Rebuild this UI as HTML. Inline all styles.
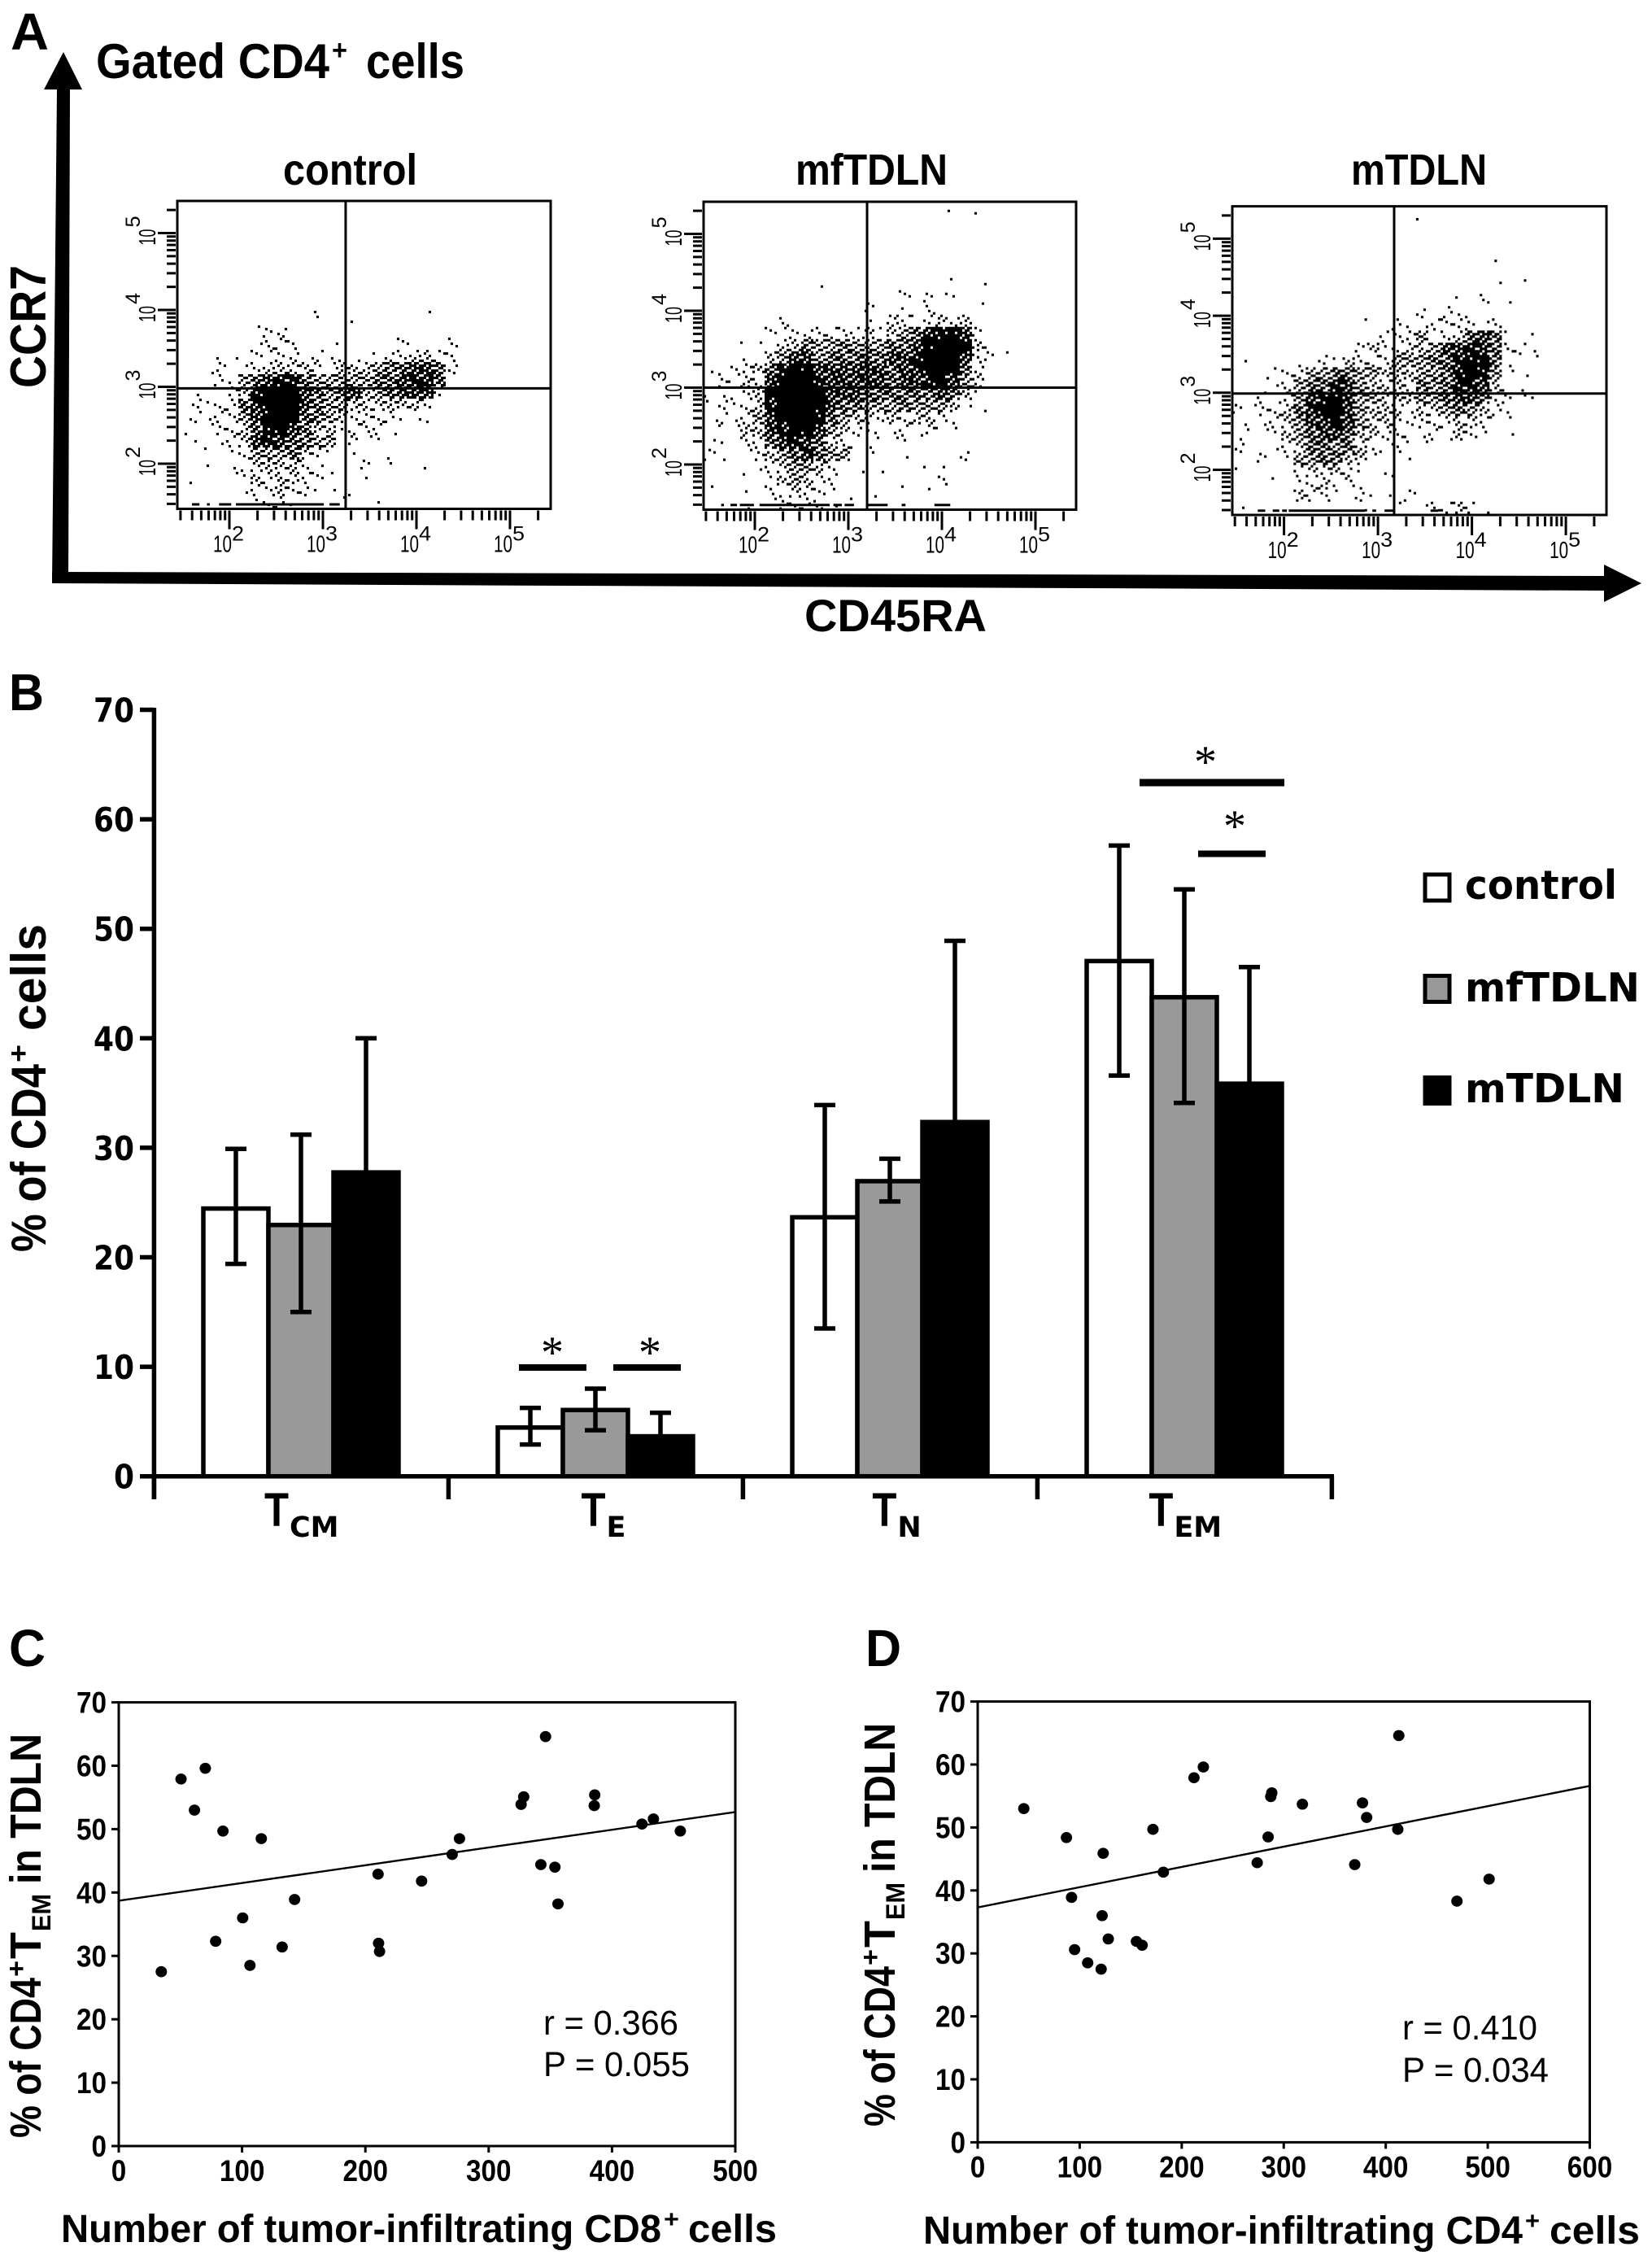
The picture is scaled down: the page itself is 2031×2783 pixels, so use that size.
<!DOCTYPE html>
<html lang="en">
<head>
<meta charset="utf-8">
<title>CD4+ T cell subsets in tumor-draining lymph nodes</title>
<style>
html,body{margin:0;padding:0;background:#fff;}
svg{display:block;}
text{fill:#000;}
.b{font-family:"Liberation Sans",Arial,sans-serif;font-weight:700;}
.r{font-family:"Liberation Sans",Arial,sans-serif;font-weight:400;}
.d{font-family:"DejaVu Sans","Liberation Sans",sans-serif;font-weight:700;}
.s{font-family:"Liberation Serif",serif;font-weight:400;}
</style>
</head>
<body>
<svg id="figure" xmlns="http://www.w3.org/2000/svg" width="2031" height="2783" viewBox="0 0 2031 2783">
  <rect x="0" y="0" width="2031" height="2783" fill="#fff"/>

  <!-- Panel A static -->
  <text class="b" x="13" y="61" font-size="64" textLength="47" lengthAdjust="spacingAndGlyphs">A</text>
  <g>
    <text class="b" x="118" y="96" font-size="60" textLength="287" lengthAdjust="spacingAndGlyphs">Gated CD4</text>
    <text class="b" x="408" y="73" font-size="34" textLength="19" lengthAdjust="spacingAndGlyphs">+</text>
    <text class="b" x="450" y="96" font-size="60" textLength="121" lengthAdjust="spacingAndGlyphs">cells</text>
  </g>
  <text class="b" x="348" y="227" font-size="54" textLength="165" lengthAdjust="spacingAndGlyphs">control</text>
  <text class="b" x="978" y="227" font-size="54" textLength="187" lengthAdjust="spacingAndGlyphs">mfTDLN</text>
  <text class="b" x="1661" y="227" font-size="54" textLength="167" lengthAdjust="spacingAndGlyphs">mTDLN</text>
  <g>
    <polygon points="64,717 84,717 86,110 70,110" fill="#000"/>
    <polygon points="78,64 101,110 54,110" fill="#000"/>
  </g>
  <g>
    <polygon points="64,703 1972,708 1972,726 64,717" fill="#000"/>
    <polygon points="2018,717 1972,694 1972,740" fill="#000"/>
  </g>
  <text class="b" transform="translate(56,477) rotate(-90)" font-size="62" textLength="151" lengthAdjust="spacingAndGlyphs">CCR7</text>
  <text class="b" x="989" y="776" font-size="56" textLength="224" lengthAdjust="spacingAndGlyphs">CD45RA</text>
  <g id="flow-layer"></g>

  <!-- Panel B static -->
  <text class="b" x="11" y="873" font-size="64" textLength="43" lengthAdjust="spacingAndGlyphs">B</text>
  <g transform="translate(56,1539) rotate(-90)">
    <text class="b" x="0" y="0" font-size="60" textLength="231" lengthAdjust="spacingAndGlyphs">% of CD4</text>
    <text class="b" x="233" y="-22" font-size="34" textLength="22" lengthAdjust="spacingAndGlyphs">+</text>
    <text class="b" x="272" y="0" font-size="60" textLength="131" lengthAdjust="spacingAndGlyphs">cells</text>
  </g>
  <g id="bar-layer"></g>
  <g>
    <rect x="638" y="1677" width="83" height="8" fill="#000"/>
    <rect x="754" y="1677" width="83" height="8" fill="#000"/>
    <rect x="1401" y="957.5" width="178" height="9" fill="#000"/>
    <rect x="1473" y="1045.5" width="83" height="8" fill="#000"/>
    <text class="s" x="679" y="1681" font-size="56" text-anchor="middle">*</text>
    <text class="s" x="799" y="1681" font-size="56" text-anchor="middle">*</text>
    <text class="s" x="1482" y="955" font-size="56" text-anchor="middle">*</text>
    <text class="s" x="1518" y="1034" font-size="56" text-anchor="middle">*</text>
  </g>
  <g>
    <g>
      <rect x="1752" y="1075" width="30" height="32" fill="#fff" stroke="#000" stroke-width="5"/>
      <text class="d" x="1801" y="1105" font-size="49" textLength="187" lengthAdjust="spacingAndGlyphs">control</text>
    </g>
    <g>
      <rect x="1752" y="1199.5" width="30" height="32" fill="#999" stroke="#000" stroke-width="5"/>
      <text class="d" x="1801" y="1231" font-size="49" textLength="215" lengthAdjust="spacingAndGlyphs">mfTDLN</text>
    </g>
    <g>
      <rect x="1752" y="1324.5" width="30" height="32" fill="#000" stroke="#000" stroke-width="5"/>
      <text class="d" x="1801" y="1355" font-size="49" textLength="196" lengthAdjust="spacingAndGlyphs">mTDLN</text>
    </g>
  </g>

  <!-- Panel C static -->
  <text class="b" x="11" y="2048" font-size="64" textLength="45" lengthAdjust="spacingAndGlyphs">C</text>
  <g transform="translate(50,2628) rotate(-90)">
    <text class="b" x="0" y="0" font-size="54" textLength="197" lengthAdjust="spacingAndGlyphs">% of CD4</text>
    <text class="b" x="198" y="-19" font-size="32" textLength="20" lengthAdjust="spacingAndGlyphs">+</text>
    <text class="b" x="220" y="0" font-size="54" textLength="33" lengthAdjust="spacingAndGlyphs">T</text>
    <text class="b" x="254" y="12" font-size="32" textLength="46" lengthAdjust="spacingAndGlyphs">EM</text>
    <text class="b" x="312" y="0" font-size="54" textLength="185" lengthAdjust="spacingAndGlyphs">in TDLN</text>
  </g>
  <g>
    <text class="b" x="75" y="2756" font-size="48" textLength="738" lengthAdjust="spacingAndGlyphs">Number of tumor-infiltrating CD8</text>
    <text class="b" x="816" y="2738" font-size="30" textLength="19" lengthAdjust="spacingAndGlyphs">+</text>
    <text class="b" x="846" y="2756" font-size="48" textLength="109" lengthAdjust="spacingAndGlyphs">cells</text>
  </g>
  <text class="r" x="668" y="2501" font-size="43" textLength="166" lengthAdjust="spacingAndGlyphs">r = 0.366</text>
  <text class="r" x="668" y="2552" font-size="43" textLength="180" lengthAdjust="spacingAndGlyphs">P = 0.055</text>

  <!-- Panel D static -->
  <text class="b" x="1064" y="2048" font-size="64" textLength="44" lengthAdjust="spacingAndGlyphs">D</text>
  <g transform="translate(1100,2614) rotate(-90)">
    <text class="b" x="0" y="0" font-size="54" textLength="197" lengthAdjust="spacingAndGlyphs">% of CD4</text>
    <text class="b" x="198" y="-19" font-size="32" textLength="20" lengthAdjust="spacingAndGlyphs">+</text>
    <text class="b" x="220" y="0" font-size="54" textLength="33" lengthAdjust="spacingAndGlyphs">T</text>
    <text class="b" x="254" y="12" font-size="32" textLength="46" lengthAdjust="spacingAndGlyphs">EM</text>
    <text class="b" x="312" y="0" font-size="54" textLength="184" lengthAdjust="spacingAndGlyphs">in TDLN</text>
  </g>
  <g>
    <text class="b" x="1135" y="2758" font-size="48" textLength="737" lengthAdjust="spacingAndGlyphs">Number of tumor-infiltrating CD4</text>
    <text class="b" x="1875" y="2740" font-size="30" textLength="18" lengthAdjust="spacingAndGlyphs">+</text>
    <text class="b" x="1905" y="2758" font-size="48" textLength="111" lengthAdjust="spacingAndGlyphs">cells</text>
  </g>
  <text class="r" x="1724" y="2507" font-size="43" textLength="166" lengthAdjust="spacingAndGlyphs">r = 0.410</text>
  <text class="r" x="1724" y="2559" font-size="43" textLength="180" lengthAdjust="spacingAndGlyphs">P = 0.034</text>
  <g id="scatter-layer"></g>
</svg>

<script>
/* ---------- Panel B data ---------- */
const barCategories = ['CM', 'E', 'N', 'EM'];
const barTickLabels = ['0', '10', '20', '30', '40', '50', '60', '70'];
const controlMeans = [24.6, 4.6, 23.8, 47.2];
const mfTDLNMeans = [23.1, 6.2, 27.1, 43.9];
const mTDLNMeans = [27.9, 3.8, 32.5, 36.0];
const controlUpper = [29.9, 6.25, 33.9, 57.6];
const controlLower = [19.4, 2.9, 13.5, 36.6];
const mfTDLNUpper = [31.2, 8.0, 29.0, 53.6];
const mfTDLNLower = [15.0, 4.2, 25.1, 34.1];
const mTDLNUpper = [40.0, 5.8, 48.9, 46.5];
const mTDLNLower = [15.8, 1.8, 16.1, 25.5];

/* ---------- Panel C data ---------- */
const scatterCX = [34.5, 50.5, 61.4, 70.2, 78.6, 84.5, 100.5, 106.4, 115.6, 132.5, 142.6, 210.3, 210.7, 211.5, 245.6, 270.4, 276.3, 326.3, 328.4, 342.3, 346.1, 353.7, 356.2, 385.6, 386, 424.3, 433.6, 455.4];
const scatterCY = [27.5, 57.9, 53, 59.6, 32.3, 49.7, 36.0, 28.5, 48.5, 31.4, 38.9, 42.9, 32.0, 30.7, 41.8, 46.0, 48.5, 53.9, 55.1, 44.4, 64.6, 44.0, 38.2, 53.7, 55.4, 50.8, 51.6, 49.7];
const scatterCFitX = [0, 500];
const scatterCFitY = [38.7, 52.7];
const scatterCXTicks = [0, 100, 200, 300, 400, 500];

/* ---------- Panel D data ---------- */
const scatterDX = [45.2, 87, 92, 95, 107.8, 121, 122, 123, 128, 155.6, 161.2, 171.8, 182, 212, 221.2, 274, 284.7, 287.3, 288.3, 318.3, 369.6, 377.2, 381.3, 411.8, 412.8, 469.8, 501.3];
const scatterDY = [53.0, 48.4, 38.9, 30.6, 28.5, 27.5, 36.0, 45.9, 32.3, 31.9, 31.3, 49.7, 42.9, 57.9, 59.6, 44.4, 48.5, 54.9, 55.5, 53.7, 44.1, 53.9, 51.6, 49.7, 64.6, 38.3, 41.8];
const scatterDFitX = [0, 600];
const scatterDFitY = [37.3, 56.6];
const scatterDXTicks = [0, 100, 200, 300, 400, 500, 600];
const scatterYTicks = [0, 10, 20, 30, 40, 50, 60, 70];

/* ---------- Panel A data: event density per log-scale cell (0-9) ---------- */
const flowExponents = [2, 3, 4, 5];
const controlDensity = [
"0000000000000000000000000","0000000000000000000000000","0000000000000000000000000","0000000000000000000000000",
"0000000000000000000000000","0000000000000000000000000","0000000000000000000000000","0000000000000000000000000",
"0000000000010000000010000","0000000000010010000000000","0000001220000000000000000","0000001222000100002000200",
"0001102122021110122332200","0012012333321333455665200","0002145677544444556775000","0100237999654563456662000",
"0212257899654433333320000","0212246899554322221110000","1012235886533122210000000","0101236765544021100000000",
"0010124445321010010000000","0010113333210002010010000","0100113233221001000000000","0000012232211010000000000",
"0000001221000100100000000"];
const mfTDLNDensity = [
"0000000000000000000010100","0000000000000000000000000","0000000000000000000000000","0000000000000000000000000",
"0000000000000000000000000","0000000000000000000000000","0000000001000000000010010","0000000000000000202110000",
"0000000000000200102000100","0000002000000103212323000","0000021222222313457786200","0001103354454445568998310",
"0001034664555556679996221","1122357986666665678985200","0213268997666665667864300","1112389999666555555653100",
"1212379998655444544431010","0212468998543323233210000","0113367986432111212110000","1102256765321111100000000",
"2101234575440100100002000","0000123443200110001100000","0001013432200000000200000","1001021322100010101000000",
"0001012222101000000000000"];
const mTDLNDensity = [
"0000000000000001000000000","0000000000000000000000000","0000000000000000000000000","0000000000000000000000000",
"0000000000000000000001000","0000000000000000000000010","0000000000000000000001000","0000000000000000001020100",
"0000000000000002021100000","0000000000100211222212000","0000000000002224023565101","0000000000231233466765221",
"0100010213222444557885101","0011224455443334457974101","0001245576433325457763110","0021246786443334456652211",
"2122357896433313345432100","0112346686433222223321100","1111345665332211213210100","2001235545311211000000000",
"0020144553310010000000000","1000023232101100000000000","0001012312100000000000000","0000032210211020000000000",
"1000000000100101223210000"];
/* events piled on the lower axis: [from, to] pairs of log10 CD45RA */
const controlEdgeEvents = [[1.60,1.68],[1.76,1.79],[1.89,2.02],[2.07,3.01],[3.07,3.18]];
const mfTDLNEdgeEvents = [[1.64,1.67],[1.74,1.81],[1.84,1.99],[2.05,2.80],[2.84,2.93],[2.96,3.06],[3.21,3.42],[3.57,3.61],[3.92,4.09]];
const mTDLNEdgeEvents = [[1.72,1.80],[1.88,1.95],[1.98,2.03],[2.05,2.86],[2.94,2.98],[3.07,3.17],[3.56,3.64]];
const controlGates = [3.243, 2.98];
const mfTDLNGates = [3.2, 3.0];
const mTDLNGates = [3.172, 2.99];

var NS = 'http://www.w3.org/2000/svg';
function mk(parent, tag, attrs, content) {
  var e = document.createElementNS(NS, tag);
  for (var k in attrs) e.setAttribute(k, attrs[k]);
  if (content !== undefined) e.textContent = content;
  parent.appendChild(e);
  return e;
}

/* ---------- Flow plots ---------- */
function drawFlow(key, box, density, edges, gates) {
  var root = document.getElementById('flow-layer');
  var sx = function (l) { return box.x100 + (l - 2) * box.xDec; };
  var sy = function (l) { return box.y100 - (l - 2) * box.yDec; };
  var g = mk(root, 'g', {});
  
  

  var counts = [0, 1, 3, 6, 10, 14, 18, 21, 24, 25];
  var cellX = 0.1304, cellY = 0.1587;
  var cw = cellX * box.xDec, ch = cellY * box.yDec, sw = cw / 5, sh = ch / 5;
  var d = '';
  density.forEach(function (row, r) {
    for (var c = 0; c < row.length; c++) {
      var n = counts[+row.charAt(c)];
      for (var i = 0; i < n; i++) {
        var k = (i * 7 + c * 3 + r * 11) % 25;
        var px = sx(box.gridX + c * cellX) + (k % 5) * sw;
        var py = sy(box.gridY - r * cellY) + Math.floor(k / 5) * sh;
        d += 'M' + px.toFixed(1) + ' ' + py.toFixed(1) + 'h' + (sw + 0.1).toFixed(1) + 'v' + (sh + 0.1).toFixed(1) + 'h-' + (sw + 0.1).toFixed(1) + 'z';
      }
    }
  });
  var dots = mk(g, 'path', { d: d, fill: '#000' });
  
  

  var edgeD = '';
  edges.forEach(function (p) { edgeD += 'M' + sx(p[0]).toFixed(1) + ' ' + box.edgeY + 'H' + sx(p[1]).toFixed(1); });
  var edge = mk(g, 'path', { d: edgeD, stroke: '#000', 'stroke-width': 3, fill: 'none' });
  
  

  var frame = mk(g, 'rect', { x: box.left, y: box.top, width: box.right - box.left, height: box.bottom - box.top, fill: 'none', stroke: '#000', 'stroke-width': 3 });
  
  

  var gv = mk(g, 'line', { x1: sx(gates[0]), x2: sx(gates[0]), y1: box.top, y2: box.bottom, stroke: '#000', 'stroke-width': 3 });
  
  
  var gh = mk(g, 'line', { x1: box.left, x2: box.right, y1: sy(gates[1]), y2: sy(gates[1]), stroke: '#000', 'stroke-width': 3 });
  
  

  var xd = '', yd = '';
  for (var dec = 1; dec <= 5; dec++) {
    for (var m = 1; m <= 9; m++) {
      var v = dec + Math.log10(m);
      var major = m === 1;
      if (v >= 1.47 && sx(v) <= box.right) xd += 'M' + sx(v).toFixed(1) + ' ' + (box.bottom + 2) + 'v' + (major ? 23 : 12);
      if (v >= 1.47 && sy(v) >= box.top + 6) yd += 'M' + (box.left - 2) + ' ' + sy(v).toFixed(1) + 'h-' + (major ? 22 : 11);
    }
  }
  var xt = mk(g, 'path', { d: xd, stroke: '#000', 'stroke-width': 3, fill: 'none' });
  
  
  var yt = mk(g, 'path', { d: yd, stroke: '#000', 'stroke-width': 3, fill: 'none' });
  
  

  flowExponents.forEach(function (ex) {
    var tx = sx(ex), base = box.bottom + 53;
    var a = mk(g, 'text', { 'class': 'r', x: tx - 20, y: base, 'font-size': 29, textLength: 23, lengthAdjust: 'spacingAndGlyphs' }, '10');
    
    
    var b = mk(g, 'text', { 'class': 'r', x: tx + 3, y: base - 14, 'font-size': 25, textLength: 15, lengthAdjust: 'spacingAndGlyphs' }, String(ex));
    
    

    var ty = sy(ex);
    var c = mk(g, 'text', { 'class': 'r', transform: 'translate(' + (box.left - 27) + ',' + (ty + 15) + ') rotate(-90)', 'font-size': 29, textLength: 20, lengthAdjust: 'spacingAndGlyphs' }, '10');
    
    
    var e = mk(g, 'text', { 'class': 'r', transform: 'translate(' + (box.left - 46) + ',' + (ty - 7) + ') rotate(-90)', 'font-size': 25, textLength: 14, lengthAdjust: 'spacingAndGlyphs' }, String(ex));
    
    
  });
}
drawFlow('control', { left: 218, right: 677, top: 247, bottom: 625.5, x100: 282, xDec: 115, y100: 570, yDec: 94.5, gridX: 1.443, gridY: 5.386, edgeY: 620 }, controlDensity, controlEdgeEvents, controlGates);
drawFlow('mftdln', { left: 865, right: 1323, top: 248, bottom: 626.5, x100: 928, xDec: 115, y100: 571, yDec: 94.5, gridX: 1.452, gridY: 5.379, edgeY: 620.7 }, mfTDLNDensity, mfTDLNEdgeEvents, mfTDLNGates);
drawFlow('mtdln', { left: 1515, right: 1975, top: 253.6, bottom: 633, x100: 1578.6, xDec: 115.5, y100: 577.5, yDec: 94.7, gridX: 1.449, gridY: 5.395, edgeY: 627.7 }, mTDLNDensity, mTDLNEdgeEvents, mTDLNGates);

/* ---------- Bar chart ---------- */
(function () {
  var root = document.getElementById('bar-layer');
  var y = function (v) { return 1814.7 - v * 13.46; };
  var groupTick = function (i) { return 189.4 + i * 362; };
  var barLeft = function (g, s) { return 250 + g * 362 + s * 80; };
  var series = [
    { name: 'control', means: controlMeans, up: controlUpper, lo: controlLower, fill: '#fff' },
    { name: 'mftdln', means: mfTDLNMeans, up: mfTDLNUpper, lo: mfTDLNLower, fill: '#999' },
    { name: 'mtdln', means: mTDLNMeans, up: mTDLNUpper, lo: mTDLNLower, fill: '#000' }
  ];
  series.forEach(function (s, si) {
    s.means.forEach(function (v, g) {
      var r = mk(root, 'rect', { x: barLeft(g, si), y: y(v) + 2, width: 80, height: y(0) - y(v) - 2, fill: s.fill, stroke: '#000', 'stroke-width': 5.5 });
      
      
    });
  });
  series.forEach(function (s, si) {
    s.means.forEach(function (v, g) {
      var cx = barLeft(g, si) + 40;
      var d = 'M' + cx + ' ' + y(s.up[g]) + 'V' + y(s.lo[g]) + 'M' + (cx - 13) + ' ' + y(s.up[g]) + 'h26M' + (cx - 13) + ' ' + y(s.lo[g]) + 'h26';
      var e = mk(root, 'path', { d: d, stroke: '#000', 'stroke-width': 5.5, fill: 'none' });
      
      
    });
  });
  var axY = mk(root, 'line', { x1: 189.4, x2: 189.4, y1: y(70) - 2.5, y2: 1843, stroke: '#000', 'stroke-width': 5.5 });
  
  
  var axX = mk(root, 'line', { x1: 187, x2: 1640, y1: y(0), y2: y(0), stroke: '#000', 'stroke-width': 5.5 });
  
  
  barTickLabels.forEach(function (lab) {
    var v = +lab;
    var tk = mk(root, 'line', { x1: 172, x2: 189, y1: y(v), y2: y(v), stroke: '#000', 'stroke-width': 5.5 });
    
    
    var t = mk(root, 'text', { 'class': 'd', x: 165, y: y(v) + 15, 'font-size': 41, 'text-anchor': 'end', textLength: lab.length * 25, lengthAdjust: 'spacingAndGlyphs' }, lab);
    
    
  });
  for (var i = 0; i <= barCategories.length; i++) {
    var tk = mk(root, 'line', { x1: groupTick(i), x2: groupTick(i), y1: y(0), y2: 1843, stroke: '#000', 'stroke-width': 5.5 });
    
    
  }
  barCategories.forEach(function (cat, i) {
    var center = groupTick(i) + 181;
    var sub = mk(root, 'text', { 'class': 'd', x: 0, y: 1889, 'font-size': 35 }, cat);
    var w = sub.getComputedTextLength();
    var tx = center - 0.75 * w;
    sub.setAttribute('x', tx + 31);
    
    
    var T = mk(root, 'text', { 'class': 'b', x: tx, y: 1876, 'font-size': 58, textLength: 30, lengthAdjust: 'spacingAndGlyphs' }, 'T');
    
    
  });
})();

/* ---------- Scatter plots ---------- */
function drawScatter(key, box, xs, ys, fitX, fitY, xTicks) {
  var root = document.getElementById('scatter-layer');
  var sx = function (v) { return box.left + v * (box.right - box.left) / box.xMax; };
  var sy = function (v) { return box.bottom - v * (box.bottom - box.top) / 70; };
  var g = mk(root, 'g', {});
  
  
  var f = mk(g, 'rect', { x: box.left, y: box.top, width: box.right - box.left, height: box.bottom - box.top, fill: 'none', stroke: '#000', 'stroke-width': 3 });
  
  
  scatterYTicks.forEach(function (v) {
    var tk = mk(g, 'line', { x1: box.left - 9, x2: box.left, y1: sy(v), y2: sy(v), stroke: '#000', 'stroke-width': 3 });
    
    
    var s = String(v);
    var t = mk(g, 'text', { 'class': 'b', x: box.left - 15, y: sy(v) + 13, 'font-size': 37, 'text-anchor': 'end', textLength: s.length * 18.5, lengthAdjust: 'spacingAndGlyphs' }, s);
    
    
  });
  xTicks.forEach(function (v) {
    var tk = mk(g, 'line', { x1: sx(v), x2: sx(v), y1: box.bottom, y2: box.bottom + 8, stroke: '#000', 'stroke-width': 3 });
    
    
    var s = String(v);
    var t = mk(g, 'text', { 'class': 'b', x: sx(v), y: box.bottom + 43, 'font-size': 37, 'text-anchor': 'middle', textLength: s.length * 18.5, lengthAdjust: 'spacingAndGlyphs' }, s);
    
    
  });
  var fit = mk(g, 'line', { x1: sx(fitX[0]), y1: sy(fitY[0]), x2: sx(fitX[1]), y2: sy(fitY[1]), stroke: '#000', 'stroke-width': 2.4 });
  
  
  xs.forEach(function (x, i) {
    var p = mk(g, 'ellipse', { cx: sx(x), cy: sy(ys[i]), rx: 7, ry: 6.8, fill: '#000' });
    
    
  });
}
drawScatter('c', { left: 146, right: 904, top: 2092.6, bottom: 2638, xMax: 500 }, scatterCX, scatterCY, scatterCFitX, scatterCFitY, scatterCXTicks);
drawScatter('d', { left: 1202, right: 1954.5, top: 2091.6, bottom: 2633.4, xMax: 600 }, scatterDX, scatterDY, scatterDFitX, scatterDFitY, scatterDXTicks);
</script>
</body>
</html>
